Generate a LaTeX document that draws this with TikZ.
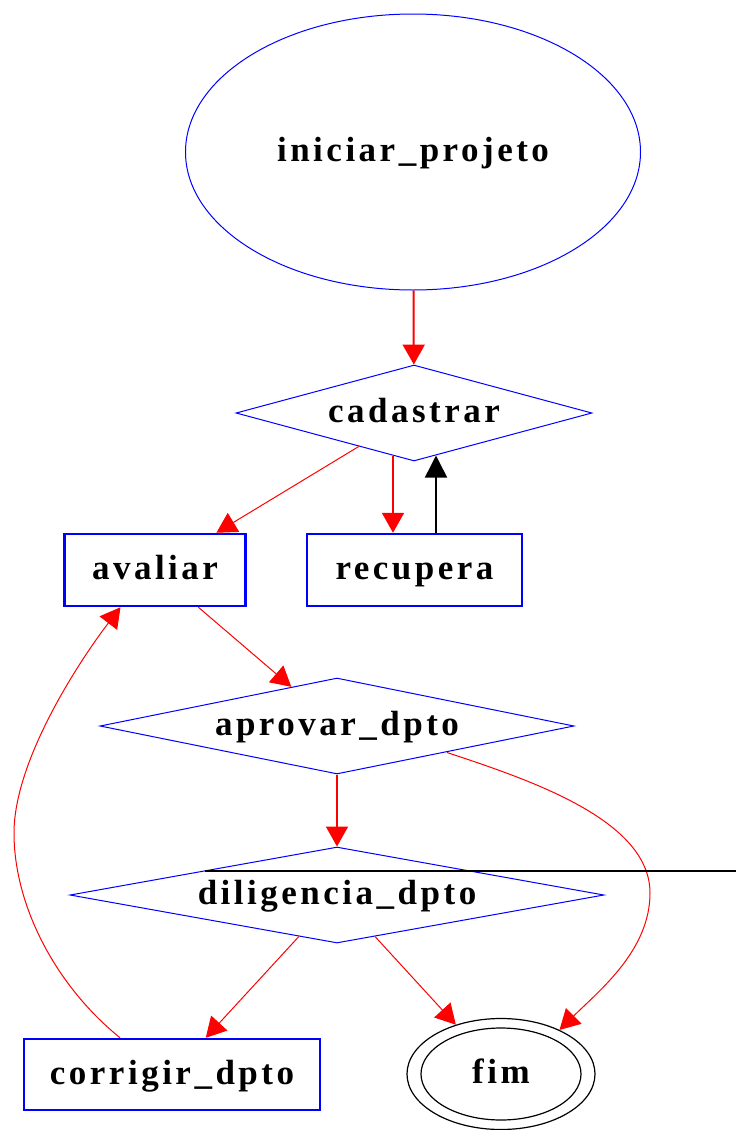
\documentclass[tikz,border=0pt]{standalone}
\usepackage{fontspec}
\setmainfont{Liberation Serif}[LetterSpace=10]
\usetikzlibrary{shapes.geometric,arrows.meta}
\begin{document}
\begin{tikzpicture}[x=1pt,y=-1pt,
  every node/.style={font=\fontsize{35}{40}\selectfont\bfseries, inner sep=0pt, text height=24pt, text depth=5pt},
  ell/.style={ellipse, draw=blue, line width=1pt},
  dia/.style={diamond, draw=blue, line width=1pt, aspect=5},
  box/.style={rectangle, draw=blue, line width=2.5pt},
  tk/.style={draw=red, line width=2pt, -{Triangle[length=20pt,width=22pt]}},
  tn/.style={draw=red, line width=1pt, -{Triangle[length=20pt,width=22pt]}},
  bk/.style={draw=black, line width=1.5pt, -{Triangle[length=22pt,width=22pt]}}]
\path[use as bounding box] (0,0) rectangle (736,1130);
\node[ell, minimum width=455pt, minimum height=276pt] (ini) at (413,152) {iniciar\_projeto};
\node[dia, minimum width=356pt, minimum height=96pt] (cad) at (414,413) {cadastrar};
\node[box, minimum width=181pt, minimum height=72pt] (ava) at (155,570) {avaliar};
\node[box, minimum width=215pt, minimum height=72pt] (rec) at (414.5,570) {recupera};
\node[dia, minimum width=474pt, minimum height=96pt] (apr) at (337,726) {aprovar\_dpto};
\node[dia, minimum width=534pt, minimum height=96pt] (dil) at (337,895) {diligencia\_dpto};
\node[box, minimum width=296pt, minimum height=71pt] (cor) at (172,1074.5) {corrigir\_dpto};
\node[ellipse, draw=black, line width=1.2pt, minimum width=188pt, minimum height=111pt] (fim) at (501,1074) {fim};
\draw[black, line width=1.2pt] (fim.center) ellipse [x radius=80pt, y radius=46pt];
\draw[tk] (ini) -- (cad);
\draw[tn] (cad) -- (ava);
\draw[tk] ([xshift=-21pt,yshift=6pt]cad.south) -- ([xshift=-21.5pt]rec.north);
\draw[bk] ([xshift=21.5pt]rec.north) -- ([xshift=22pt,yshift=6pt]cad.south);
\draw[tn] (ava) -- (apr);
\draw[tk] (apr) -- (dil);
\draw[tn] ([xshift=110pt,yshift=22pt]apr.south) .. controls (530,780) and (650,820) .. (650,893) .. controls (650,950) and (600,990) .. (fim.37);
\draw[tn] (dil) -- (cor);
\draw[tn] (dil) -- (fim);
\draw[tn] ([xshift=-52pt]cor.north) .. controls (55,985) and (14,905) .. (14,833) .. controls (14,760) and (80,660) .. ([xshift=-34.5pt]ava.south);
\coordinate (edge) at (736,871);
\draw[black, line width=1.5pt] ([xshift=-132pt,yshift=24pt]dil.center) -- (edge);
\end{tikzpicture}
\end{document}
